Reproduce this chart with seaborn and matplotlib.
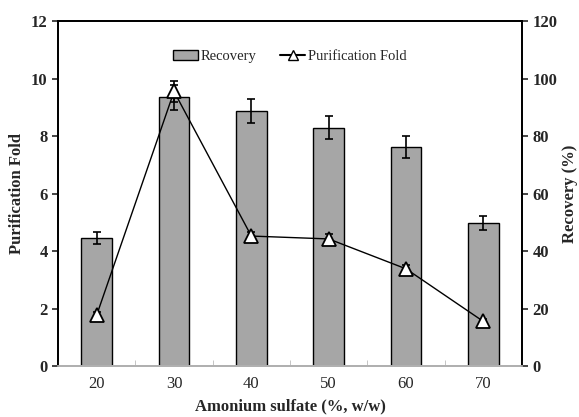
import numpy as np
import pandas as pd
import matplotlib
matplotlib.use('Agg')
import matplotlib.pyplot as plt
import seaborn as sns
from matplotlib.lines import Line2D
from matplotlib.patches import Patch

# data
sulfate = ['20', '30', '40', '50', '60', '70']
recovery = [44.5, 93.5, 88.7, 82.9, 76.2, 49.8]
recovery_err = [2.2, 4.3, 4.3, 4.1, 3.8, 2.4]
fold = [1.77, 9.55, 4.52, 4.42, 3.38, 1.55]
fold_err = [0.12, 0.35, 0.15, 0.18, 0.15, 0.1]

sns.set_style('ticks')
plt.rcParams['font.family'] = ['Liberation Serif', 'DejaVu Serif']

df = pd.DataFrame({'sulfate': sulfate, 'recovery': recovery, 'fold': fold})
pos = np.arange(len(sulfate))

fig = plt.figure(figsize=(5.79, 4.17), dpi=100)
ax = fig.add_axes([0.1002, 0.1223, 0.8014, 0.8273])
ax2 = ax.twinx()

# bars on the right axis (Recovery)
sns.barplot(data=df, x='sulfate', y='recovery', ax=ax2, color='#a6a6a6',
            width=0.4, edgecolor='black', linewidth=1.0, errorbar=None, saturation=1)
ax2.errorbar(pos, recovery, yerr=recovery_err, fmt='none', ecolor='black',
             elinewidth=1.2, capsize=3, capthick=1.2)

# line on the left axis (Purification fold), drawn above the bars
ax.set_zorder(ax2.get_zorder() + 1)
ax.patch.set_visible(False)
ax.errorbar(pos, fold, yerr=fold_err, fmt='none', ecolor='black',
            elinewidth=1.2, capsize=3, capthick=1.2, zorder=1)
sns.lineplot(x=pos, y=fold, ax=ax, color='black', linewidth=1.0, marker='^',
             markersize=10, markerfacecolor='white', markeredgecolor='black',
             markeredgewidth=1.3, zorder=3)

ax.set_xlim(-0.5, 5.5)
ax2.set_xlim(-0.5, 5.5)
ax.set_ylim(0, 12)
ax2.set_ylim(0, 120)
ax.set_yticks(np.arange(0, 13, 2))
ax2.set_yticks(np.arange(0, 121, 20))

ax.set_xticks(pos)
ax.set_xticklabels(sulfate, fontsize=12)
ax.set_xticks(np.arange(-0.5, 6, 1), minor=True)
ax.tick_params(axis='x', which='major', length=0, pad=7)
ax.tick_params(axis='x', which='minor', direction='in', length=4, color='#bbbbbb')
ax.tick_params(axis='y', direction='out', length=4, width=1.2)
ax2.tick_params(axis='y', direction='out', length=4, width=1.2)
ax2.tick_params(axis='x', length=0)
for lab in ax.get_yticklabels() + ax2.get_yticklabels():
    lab.set_fontsize(12)
    lab.set_fontweight('bold')

ax.set_xlabel('Amonium sulfate (%, w/w)', fontsize=12, fontweight='bold', labelpad=5)
ax.set_ylabel('Purification Fold', fontsize=12, fontweight='bold', labelpad=4)
ax2.set_ylabel('Recovery (%)', fontsize=12, fontweight='bold', labelpad=3)
ax2.set_xlabel('')

for a in (ax, ax2):
    for s in a.spines.values():
        s.set_linewidth(1.3)
        s.set_color('black')
    a.spines['bottom'].set_color('#b0b0b0')

handles = [Patch(facecolor='#a6a6a6', edgecolor='black', label='Recovery'),
           Line2D([], [], color='black', marker='^', markerfacecolor='white',
                  markeredgecolor='black', markersize=7, label='Purification Fold')]
ax.legend(handles=handles, loc='upper center', bbox_to_anchor=(0.5, 0.955), ncol=2,
          frameon=False, fontsize=10.5, handlelength=1.7, columnspacing=1.6,
          handletextpad=0.2)

fig.savefig('out.png', dpi=100)
